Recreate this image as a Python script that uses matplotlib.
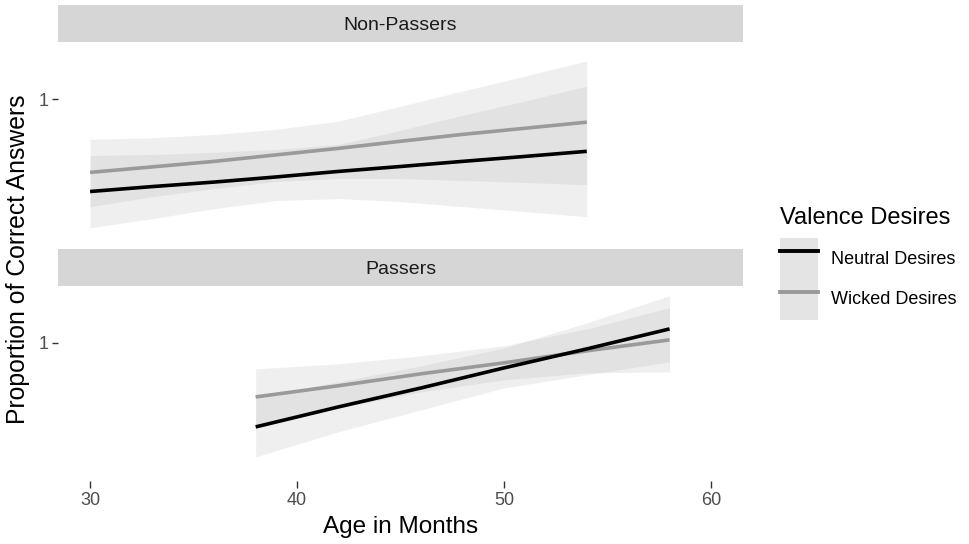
import matplotlib
matplotlib.use("Agg")
import matplotlib.pyplot as plt
from matplotlib.lines import Line2D
from matplotlib.patches import Patch
from matplotlib.legend_handler import HandlerTuple

plt.rcParams['font.family'] = ['Liberation Sans', 'DejaVu Sans']

# Non-Passers panel
x_np = [30, 33, 36, 39, 42, 45, 48, 51, 54]
neutral_np = [0.531, 0.556, 0.579, 0.605, 0.633, 0.658, 0.684, 0.709, 0.735]
neutral_np_lo = [0.347, 0.393, 0.444, 0.485, 0.495, 0.480, 0.454, 0.429, 0.403]
neutral_np_hi = [0.714, 0.719, 0.730, 0.745, 0.770, 0.842, 0.918, 0.990, 1.066]
wicked_np = [0.628, 0.656, 0.684, 0.717, 0.750, 0.786, 0.821, 0.852, 0.883]
wicked_np_lo = [0.454, 0.505, 0.546, 0.582, 0.597, 0.597, 0.587, 0.577, 0.566]
wicked_np_hi = [0.796, 0.804, 0.821, 0.847, 0.888, 0.964, 1.041, 1.117, 1.194]

# Passers panel
x_p = [38, 42, 46, 50, 54, 58]
neutral_p = [0.571, 0.673, 0.770, 0.872, 0.969, 1.071]
neutral_p_lo = [0.418, 0.546, 0.658, 0.770, 0.837, 0.903]
neutral_p_hi = [0.724, 0.801, 0.883, 0.974, 1.102, 1.240]
wicked_p = [0.724, 0.781, 0.842, 0.898, 0.959, 1.015]
wicked_p_lo = [0.582, 0.668, 0.750, 0.811, 0.847, 0.852]
wicked_p_hi = [0.867, 0.893, 0.934, 0.985, 1.071, 1.179]

facets = ['Non-Passers', 'Passers']
groups = ['Neutral Desires', 'Wicked Desires']
line_cols = {'Neutral Desires': '#000000', 'Wicked Desires': '#9a9a9a'}
x_ticks = [30, 40, 50, 60]

panels = {
    'Non-Passers': (x_np, {'Neutral Desires': (neutral_np, neutral_np_lo, neutral_np_hi),
                           'Wicked Desires': (wicked_np, wicked_np_lo, wicked_np_hi)}),
    'Passers': (x_p, {'Neutral Desires': (neutral_p, neutral_p_lo, neutral_p_hi),
                      'Wicked Desires': (wicked_p, wicked_p_lo, wicked_p_hi)}),
}

W, H = 970, 544
fig = plt.figure(figsize=(W / 100, H / 100), dpi=100)

def box(x0, y0, x1, y1):
    return [x0 / W, 1 - y1 / H, (x1 - x0) / W, (y1 - y0) / H]

layout = {'Non-Passers': ((58, 5, 743, 42), (58, 42, 743, 238)),
          'Passers': ((58, 249, 743, 286), (58, 286, 743, 481))}

for i, name in enumerate(facets):
    sbox, pbox = layout[name]
    strip = fig.add_axes(box(*sbox))
    strip.set_facecolor('#d6d6d6')
    strip.set_xticks([])
    strip.set_yticks([])
    for s in strip.spines.values():
        s.set_visible(False)
    strip.text(0.5, 0.45, name, ha='center', va='center', fontsize=14, color='#1a1a1a')

    ax = fig.add_axes(box(*pbox))
    xs, series = panels[name]
    for g in groups:
        y, lo, hi = series[g]
        ax.fill_between(xs, lo, hi, color='#999999', alpha=0.15, linewidth=0)
    for g in ['Wicked Desires', 'Neutral Desires']:
        y, lo, hi = series[g]
        ax.plot(xs, y, color=line_cols[g], lw=2.6, solid_capstyle='butt')
    ax.set_xlim(28.45, 61.55)
    ax.set_ylim(0.295, 1.29)
    ax.set_yticks([1])
    ax.set_yticklabels(['1'])
    for s in ax.spines.values():
        s.set_visible(False)
    ax.tick_params(axis='y', length=4, width=1, color='#333333', labelcolor='#4d4d4d',
                   labelsize=13, pad=3)
    if i == 1:
        ax.set_xticks(x_ticks)
        ax.tick_params(axis='x', length=5, width=1, color='#333333', labelcolor='#4d4d4d',
                       labelsize=13, pad=3)
        ax.set_xlabel('Age in Months', fontsize=17.5, labelpad=5)
    else:
        ax.set_xticks([])

fig.text(18 / W, 1 - 259 / H, 'Proportion of Correct Answers', rotation=90,
         ha='center', va='center', fontsize=17.8)

# legend: title as text, keys below it
fig.text(780 / W, 1 - 218 / H, 'Valence Desires', ha='left', va='center', fontsize=17)
bg = '#e4e4e4'
handles = [(Patch(facecolor=bg, edgecolor='none'), Line2D([], [], color=line_cols[g], lw=2.8))
           for g in groups]
leg = fig.legend(handles, groups, handler_map={tuple: HandlerTuple(ndivide=1, pad=0)},
                 loc='upper left', bbox_to_anchor=(780 / W, 1 - 238 / H), frameon=False,
                 fontsize=13, handlelength=2.1, handleheight=3.1, labelspacing=0,
                 handletextpad=0.7, borderaxespad=0, borderpad=0)

fig.savefig('out.png', dpi=100)
